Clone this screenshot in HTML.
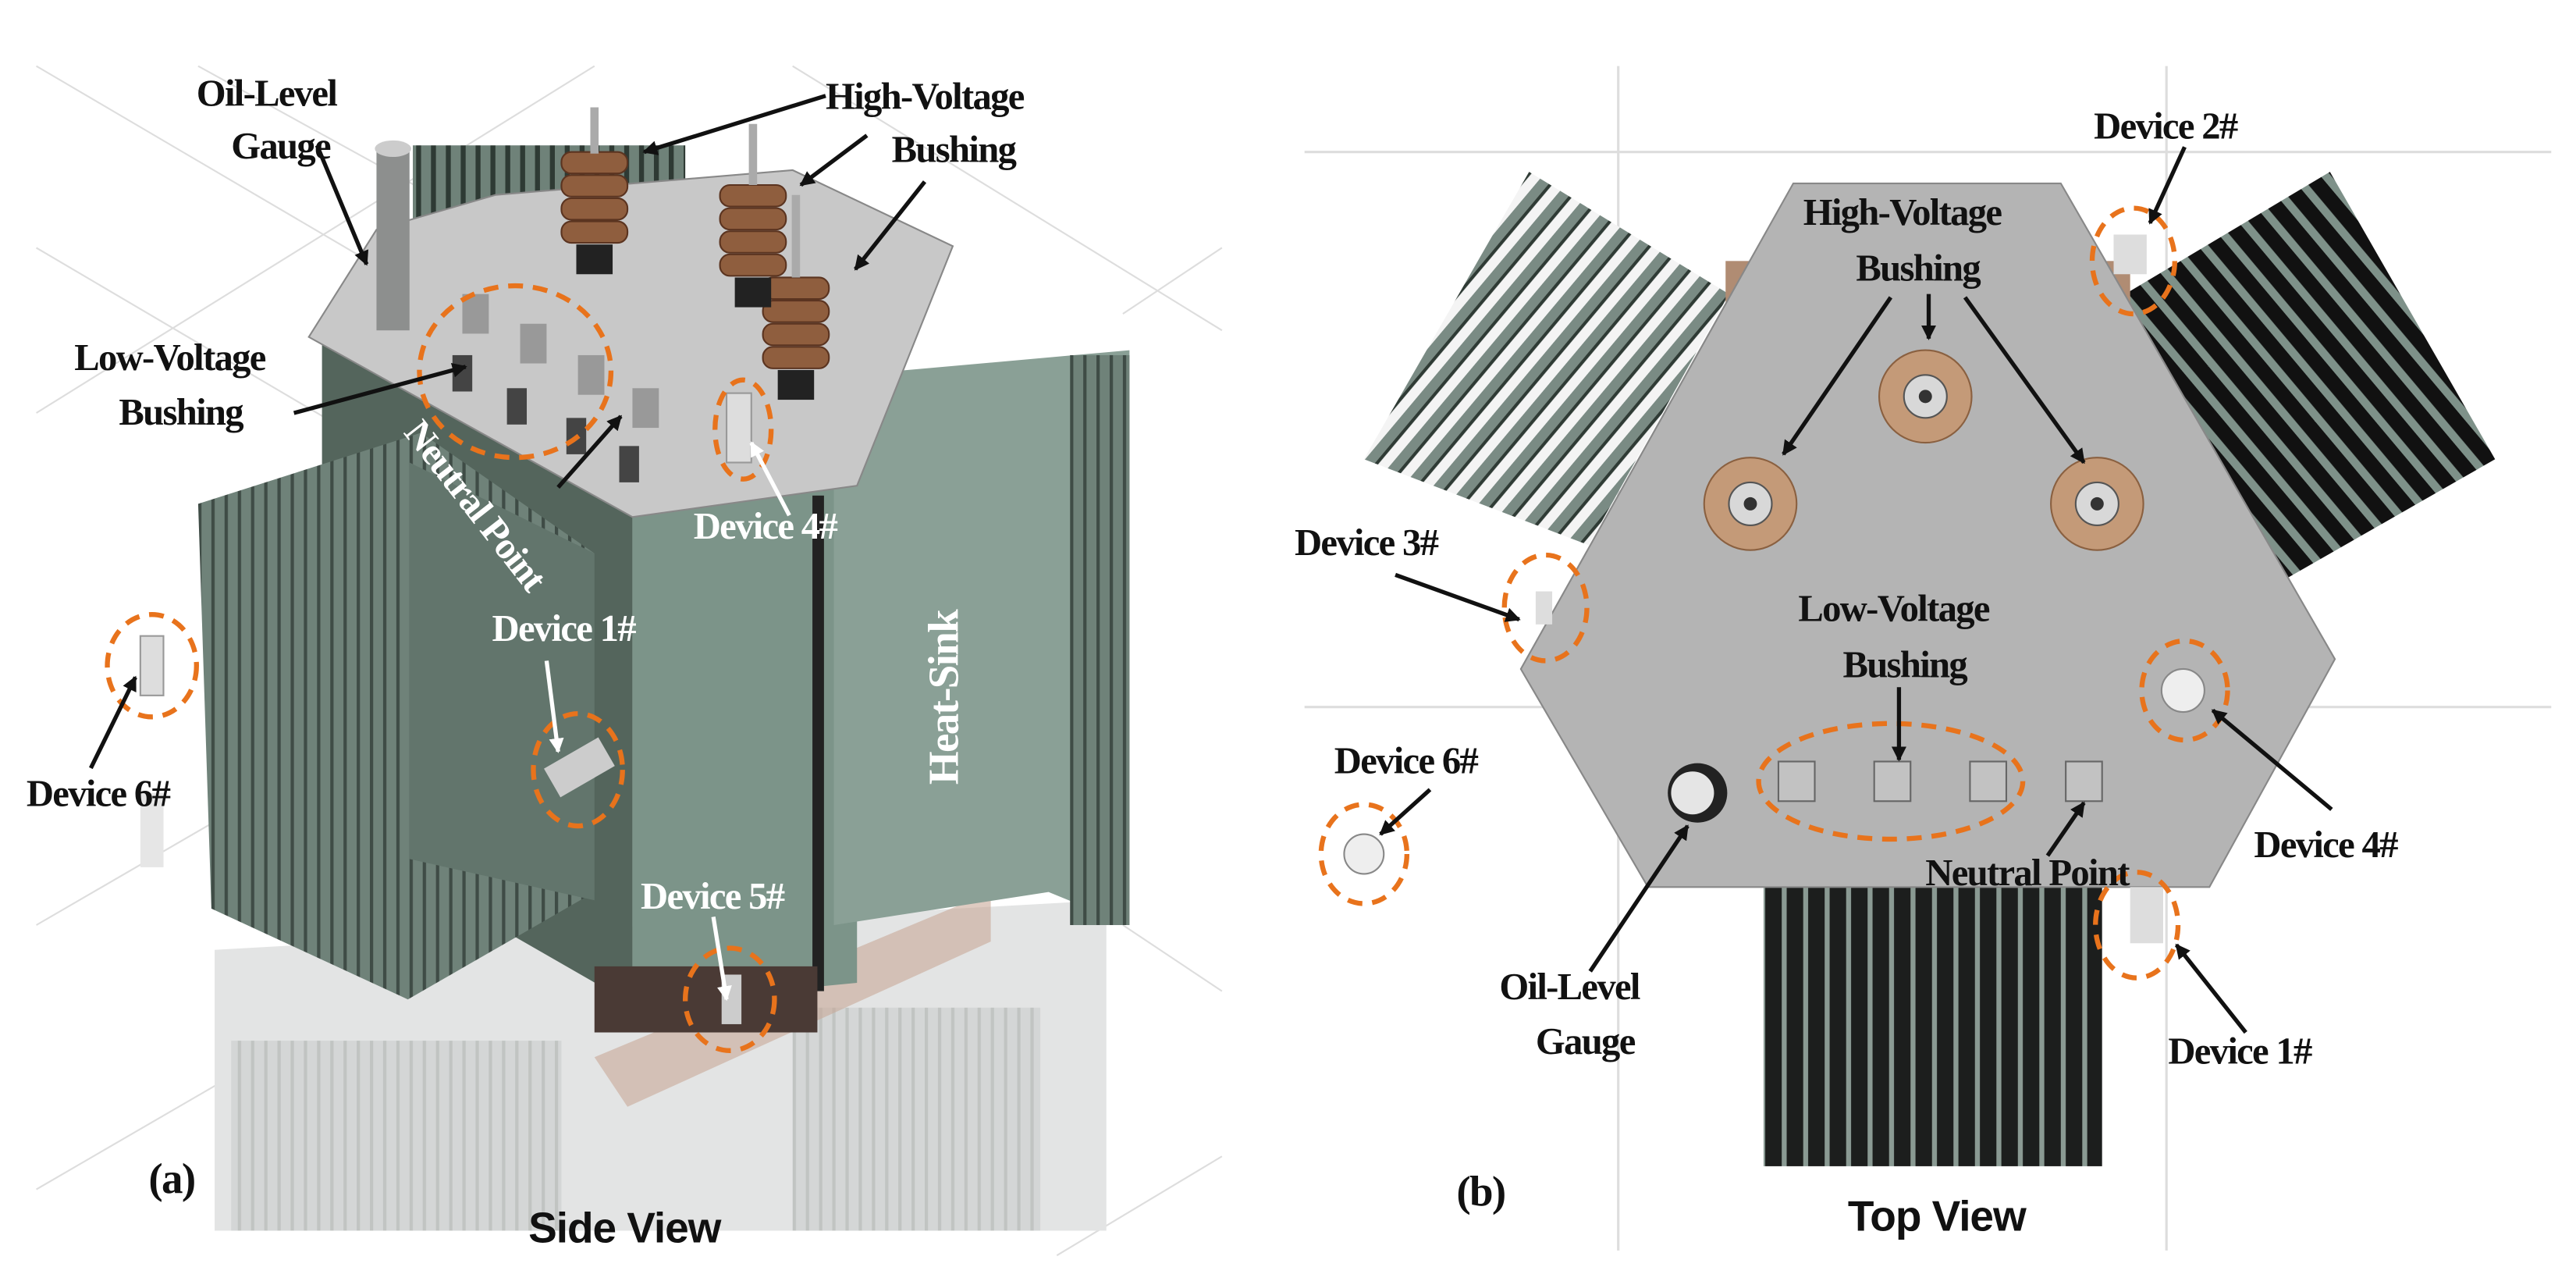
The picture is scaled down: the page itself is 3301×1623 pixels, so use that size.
<!DOCTYPE html><html><head><style>body{margin:0;background:#fff}svg{display:block}
text{font-family:"Liberation Serif",serif;font-weight:bold;font-size:23px;fill:#111;letter-spacing:-0.8px}
.s{font-family:"Liberation Sans",sans-serif;font-size:26px;letter-spacing:-0.5px}
.w{fill:#fff}
.o{fill:none;stroke:#e8731c;stroke-width:3;stroke-dasharray:9 6}
.a{stroke:#111;stroke-width:2.5;marker-end:url(#ar)}
.aw{stroke:#fff;stroke-width:2.5;marker-end:url(#aw)}
</style></head><body>
<svg width="3301" height="1623" viewBox="0 0 1560 767" preserveAspectRatio="none" xmlns="http://www.w3.org/2000/svg">
<defs>
<marker id="ar" markerWidth="9" markerHeight="9" refX="8" refY="4.5" orient="auto" markerUnits="userSpaceOnUse"><path d="M0,0L9,4.5L0,9z" fill="#111"/></marker>
<marker id="aw" markerWidth="9" markerHeight="9" refX="8" refY="4.5" orient="auto" markerUnits="userSpaceOnUse"><path d="M0,0L9,4.5L0,9z" fill="#fff"/></marker>
<pattern id="fv" width="9" height="10" patternUnits="userSpaceOnUse"><rect width="9" height="10" fill="#6f8279"/><rect width="3" height="10" fill="#2e3a34"/></pattern>
<pattern id="fb" width="13" height="10" patternUnits="userSpaceOnUse"><rect width="13" height="10" fill="#1c1e1d"/><rect width="3" height="10" fill="#8a9a93"/></pattern>
<pattern id="fl" width="8" height="10" patternUnits="userSpaceOnUse"><rect width="8" height="10" fill="#6f8279"/><rect width="2" height="10" fill="#3f4c46"/></pattern>
<pattern id="fd" width="14" height="14" patternUnits="userSpaceOnUse" patternTransform="rotate(40)"><rect width="14" height="14" fill="#f4f4f4"/><rect width="6" height="14" fill="#7a8b84"/><rect x="6" width="2" height="14" fill="#2f3b35"/></pattern>
<pattern id="fd2" width="14" height="14" patternUnits="userSpaceOnUse" patternTransform="rotate(-40)"><rect width="14" height="14" fill="#111"/><rect width="5" height="14" fill="#7e9189"/></pattern>
<pattern id="fg" width="8" height="10" patternUnits="userSpaceOnUse"><rect width="8" height="10" fill="#d0d3d2"/><rect width="2" height="10" fill="#b8bcba"/></pattern>
</defs>
<g stroke="#ddd" stroke-width="1" fill="none">
<path d="M22,40L380,250M22,150L260,290M120,40L520,260M480,40L740,200M22,720L160,640M22,560L160,480M640,760L740,700M360,40L22,250M740,150L680,190M680,560L740,600"/>
</g>
<polygon points="130,575 670,545 670,745 130,745" fill="#e3e4e4"/>
<rect x="140" y="630" width="200" height="115" fill="url(#fg)" opacity=".8"/>
<rect x="480" y="610" width="150" height="135" fill="url(#fg)" opacity=".8"/>
<polygon points="360,640 600,540 600,570 380,670" fill="#c8a898" opacity=".6"/>
<rect x="85" y="480" width="14" height="45" fill="#e6e6e6"/>
<rect x="250" y="88" width="165" height="60" fill="url(#fv)"/>
<polygon points="195,200 383,313 383,608 195,500" fill="#54655c"/>
<polygon points="383,313 519,294 519,595 383,608" fill="#7c9489"/>
<rect x="492" y="300" width="7" height="300" fill="#222"/>
<polygon points="505,228 684,212 684,560 635,540 505,560" fill="#8aa096"/>
<rect x="648" y="215" width="36" height="345" fill="url(#fl)"/>
<polygon points="120,305 255,262 360,335 360,540 247,605 128,550" fill="url(#fl)"/>
<polygon points="248,280 360,335 360,545 248,520" fill="#62756c"/>
<rect x="360" y="585" width="135" height="40" fill="#4a3a35"/>
<polygon points="187,204 228,139 300,118 480,103 577,149 519,294 383,313" fill="#c8c8c8" stroke="#888"/>
<rect x="228" y="88" width="20" height="112" fill="#8d8f8e"/><ellipse cx="238" cy="90" rx="11" ry="5" fill="#ccc"/>
<g fill="#8f5e3e" stroke="#5b3420">
<rect x="340" y="92" width="40" height="13" rx="6"/><rect x="340" y="106" width="40" height="13" rx="6"/><rect x="340" y="120" width="40" height="13" rx="6"/><rect x="340" y="134" width="40" height="13" rx="6"/>
<rect x="436" y="112" width="40" height="13" rx="6"/><rect x="436" y="126" width="40" height="13" rx="6"/><rect x="436" y="140" width="40" height="13" rx="6"/><rect x="436" y="154" width="40" height="13" rx="6"/>
<rect x="462" y="168" width="40" height="13" rx="6"/><rect x="462" y="182" width="40" height="13" rx="6"/><rect x="462" y="196" width="40" height="13" rx="6"/><rect x="462" y="210" width="40" height="13" rx="6"/>
</g>
<rect x="349" y="148" width="22" height="18" fill="#222"/><rect x="445" y="168" width="22" height="18" fill="#222"/><rect x="471" y="224" width="22" height="18" fill="#222"/>
<path d="M360,65v28M456,75v37M482,118v50" stroke="#aaa" stroke-width="5"/>
<g fill="#444"><rect x="274" y="215" width="12" height="22"/><rect x="307" y="235" width="12" height="22"/><rect x="343" y="253" width="12" height="22"/><rect x="375" y="270" width="12" height="22"/></g>
<g fill="#999"><rect x="280" y="178" width="16" height="24"/><rect x="315" y="196" width="16" height="24"/><rect x="350" y="215" width="16" height="24"/><rect x="383" y="235" width="16" height="24"/></g>
<ellipse cx="312" cy="225" rx="58" ry="52" class="o"/>
<rect x="440" y="238" width="15" height="42" fill="#ddd" stroke="#999"/><ellipse cx="450" cy="260" rx="17" ry="30" class="o"/>
<rect x="332" y="455" width="38" height="20" fill="#ccc" transform="rotate(-30 350 465)"/><ellipse cx="350" cy="466" rx="27" ry="34" class="o"/>
<rect x="85" y="385" width="14" height="36" fill="#ddd" stroke="#999"/><ellipse cx="92" cy="403" rx="27" ry="31" class="o"/>
<rect x="437" y="590" width="12" height="30" fill="#ccc"/><ellipse cx="442" cy="605" rx="27" ry="31" class="o"/>
<text x="119" y="64">Oil-Level</text><text x="140" y="96">Gauge</text>
<text x="500" y="66">High-Voltage</text><text x="540" y="98">Bushing</text>
<text x="45" y="224">Low-Voltage</text><text x="72" y="257">Bushing</text>
<text x="16" y="488">Device 6#</text>
<text x="298" y="388" class="w">Device 1#</text>
<text x="420" y="326" class="w">Device 4#</text>
<text x="388" y="550" class="w">Device 5#</text>
<text class="w" transform="translate(244,262) rotate(52)">Neutral Point</text>
<text class="w" transform="translate(580,475) rotate(-90)" style="font-size:26px">Heat-Sink</text>
<text x="90" y="722" style="font-size:26px">(a)</text>
<text x="320" y="752" class="s">Side View</text>
<line x1="192" y1="88" x2="222" y2="160" class="a"/>
<line x1="500" y1="58" x2="390" y2="92" class="a"/>
<line x1="525" y1="82" x2="485" y2="112" class="a"/>
<line x1="560" y1="110" x2="518" y2="163" class="a"/>
<line x1="178" y1="250" x2="282" y2="222" class="a"/>
<line x1="338" y1="295" x2="376" y2="252" class="a"/>
<line x1="55" y1="465" x2="82" y2="410" class="a"/>
<line x1="478" y1="312" x2="455" y2="268" class="aw"/>
<line x1="331" y1="400" x2="338" y2="455" class="aw"/>
<line x1="432" y1="555" x2="440" y2="605" class="aw"/>
<g stroke="#ddd" stroke-width="1.5"><line x1="790" y1="92" x2="1545" y2="92"/><line x1="790" y1="428" x2="1545" y2="428"/><line x1="980" y1="40" x2="980" y2="757"/><line x1="1312" y1="40" x2="1312" y2="757"/></g>
<polygon points="926,104 1047,178 962,330 826,278" fill="url(#fd)"/>
<polygon points="1287,178 1411,104 1511,278 1385,350" fill="url(#fd2)"/>
<rect x="1068" y="535" width="205" height="171" fill="url(#fb)"/>
<rect x="1045" y="158" width="245" height="30" fill="#b08c73"/>
<polygon points="1086,111 1248,111 1414,399 1338,537 998,537 921,405" fill="#b4b4b4" stroke="#888"/>
<g><circle cx="1166" cy="240" r="28" fill="#c49a78" stroke="#8a6040"/><circle cx="1166" cy="240" r="13" fill="#d8d8d8" stroke="#555"/><circle cx="1166" cy="240" r="4" fill="#333"/>
<circle cx="1060" cy="305" r="28" fill="#c49a78" stroke="#8a6040"/><circle cx="1060" cy="305" r="13" fill="#d8d8d8" stroke="#555"/><circle cx="1060" cy="305" r="4" fill="#333"/>
<circle cx="1270" cy="305" r="28" fill="#c49a78" stroke="#8a6040"/><circle cx="1270" cy="305" r="13" fill="#d8d8d8" stroke="#555"/><circle cx="1270" cy="305" r="4" fill="#333"/></g>
<g fill="#c2c2c2" stroke="#666"><rect x="1077" y="461" width="22" height="24"/><rect x="1135" y="461" width="22" height="24"/><rect x="1193" y="461" width="22" height="24"/><rect x="1251" y="461" width="22" height="24"/></g>
<circle cx="1028" cy="480" r="18" fill="#222"/><circle cx="1025" cy="480" r="13" fill="#e5e5e5"/>
<ellipse cx="1145" cy="473" rx="80" ry="35" class="o"/>
<rect x="1280" y="142" width="20" height="24" fill="#ddd"/><ellipse cx="1292" cy="158" rx="25" ry="32" class="o"/>
<rect x="930" y="358" width="10" height="20" fill="#ddd"/><ellipse cx="936" cy="368" rx="25" ry="32" class="o"/>
<circle cx="1322" cy="418" r="13" fill="#eee" stroke="#888"/><ellipse cx="1323" cy="418" rx="26" ry="30" class="o"/>
<circle cx="826" cy="517" r="12" fill="#eee" stroke="#888"/><ellipse cx="826" cy="517" rx="26" ry="30" class="o"/>
<rect x="1290" y="537" width="20" height="34" fill="#ddd"/><ellipse cx="1294" cy="560" rx="25" ry="32" class="o"/>
<text x="1268" y="84">Device 2#</text>
<text x="1092" y="136">High-Voltage</text><text x="1124" y="170">Bushing</text>
<text x="784" y="336">Device 3#</text>
<text x="1089" y="376">Low-Voltage</text><text x="1116" y="410">Bushing</text>
<text x="808" y="468">Device 6#</text>
<text x="1365" y="519">Device 4#</text>
<text x="1166" y="536">Neutral Point</text>
<text x="908" y="605">Oil-Level</text><text x="930" y="638">Gauge</text>
<text x="1313" y="644">Device 1#</text>
<text x="882" y="730" style="font-size:26px">(b)</text>
<text x="1119" y="745" class="s">Top View</text>
<line x1="1323" y1="89" x2="1302" y2="135" class="a"/>
<line x1="1168" y1="178" x2="1168" y2="205" class="a"/>
<line x1="1145" y1="180" x2="1080" y2="275" class="a"/>
<line x1="1190" y1="180" x2="1262" y2="280" class="a"/>
<line x1="845" y1="348" x2="920" y2="375" class="a"/>
<line x1="1150" y1="416" x2="1150" y2="460" class="a"/>
<line x1="866" y1="478" x2="836" y2="505" class="a"/>
<line x1="1412" y1="490" x2="1340" y2="430" class="a"/>
<line x1="1240" y1="518" x2="1262" y2="486" class="a"/>
<line x1="963" y1="588" x2="1022" y2="500" class="a"/>
<line x1="1360" y1="625" x2="1318" y2="572" class="a"/>
</svg></body></html>
